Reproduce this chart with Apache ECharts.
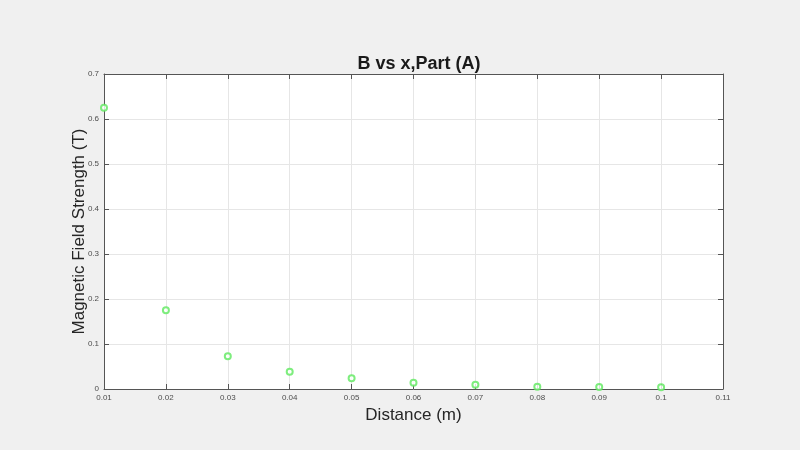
<!DOCTYPE html>
<html><head><meta charset="utf-8">
<script src="https://cdn.jsdelivr.net/npm/echarts@6/dist/echarts.min.js"></script>
<style>html,body{margin:0;padding:0;background:#f0f0f0;}#c{width:800px;height:450px;}</style>
</head><body><div id="c"></div>
<script>
const distance = [0.01, 0.02, 0.03, 0.04, 0.05, 0.06, 0.07, 0.08, 0.09, 0.10];
const fieldB = [0.625, 0.175, 0.073, 0.0385, 0.024, 0.014, 0.0095, 0.0048, 0.0042, 0.0038];
const xTicks = ['0.01','0.02','0.03','0.04','0.05','0.06','0.07','0.08','0.09','0.1','0.11'];
const yTicks = ['0','0.1','0.2','0.3','0.4','0.5','0.6','0.7'];

const chart = echarts.init(document.getElementById('c'));
const axisCol = '#262626';
const labelCol = '#4d4d4d';
const gridCol = '#e6e6e6';
chart.setOption({
  backgroundColor: '#f0f0f0',
  animation: false,
  title: {
    text: 'B vs x,Part (A)', left: 414, top: 50, textAlign: 'center',
    textStyle: {fontFamily: 'Liberation Sans, Arial', fontSize: 18, fontWeight: 'bold', color: '#1a1a1a'}
  },
  grid: {left: 104, right: 77, top: 74, bottom: 61, backgroundColor: '#ffffff', show: true, borderWidth: 0},
  xAxis: [{
    type: 'value', min: 0.01, max: 0.11, interval: 0.01,
    name: 'Distance (m)', nameLocation: 'middle', nameGap: 18, nameMoveOverlap: false,
    nameTextStyle: {fontFamily: 'Liberation Sans, Arial', fontSize: 17, color: axisCol},
    axisLine: {show: true, lineStyle: {color: '#555', width: 1}},
    axisTick: {show: true, inside: true, length: 5, lineStyle: {color: '#555'}},
    axisLabel: {fontFamily: 'Liberation Sans, Arial', fontSize: 8, color: labelCol, margin: 5,
      formatter: (v) => xTicks[Math.round((v - 0.01) / 0.01)]},
    splitLine: {show: true, lineStyle: {color: gridCol, width: 1}}
  }, {
    type: 'value', position: 'top', min: 0.01, max: 0.11, interval: 0.01,
    axisLine: {show: true, onZero: false, lineStyle: {color: '#555', width: 1}},
    axisTick: {show: true, inside: true, length: 5, lineStyle: {color: '#555'}},
    axisLabel: {show: false}, splitLine: {show: false}
  }],
  yAxis: [{
    type: 'value', min: 0, max: 0.7, interval: 0.1,
    name: 'Magnetic Field Strength (T)', nameLocation: 'middle', nameGap: 16, nameMoveOverlap: false,
    nameTextStyle: {fontFamily: 'Liberation Sans, Arial', fontSize: 17, color: axisCol},
    axisLine: {show: true, lineStyle: {color: '#555', width: 1}},
    axisTick: {show: true, inside: true, length: 5, lineStyle: {color: '#555'}},
    axisLabel: {fontFamily: 'Liberation Sans, Arial', fontSize: 8, color: labelCol, margin: 5,
      formatter: (v) => yTicks[Math.round(v / 0.1)]},
    splitLine: {show: true, lineStyle: {color: gridCol, width: 1}}
  }, {
    type: 'value', position: 'right', min: 0, max: 0.7, interval: 0.1,
    axisLine: {show: true, onZero: false, lineStyle: {color: '#555', width: 1}},
    axisTick: {show: true, inside: true, length: 5, lineStyle: {color: '#555'}},
    axisLabel: {show: false}, splitLine: {show: false}
  }],
  series: [{
    type: 'scatter',
    data: distance.map((x, i) => [x, fieldB[i]]),
    symbol: 'emptyCircle', symbolSize: 6,
    itemStyle: {color: '#5ee85e', borderWidth: 1},
    clip: false
  }]
});
</script></body></html>
